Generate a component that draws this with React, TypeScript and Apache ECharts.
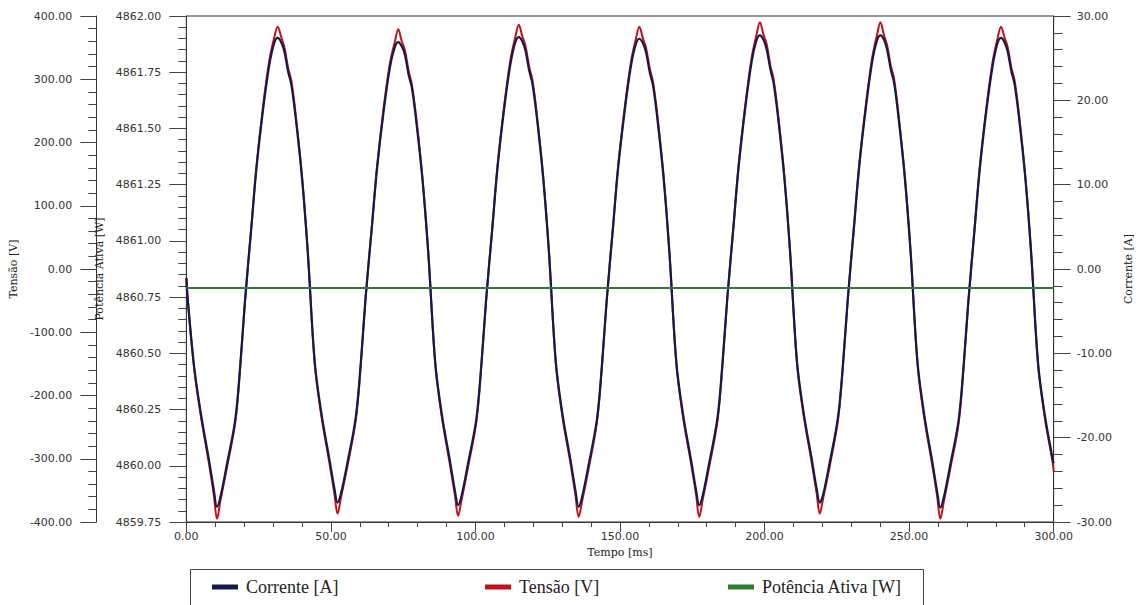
import React, { useEffect, useRef } from "react";
import * as echarts from "echarts";

// Tempo [ms]
const tempo = [
  0, 0.5, 2.7, 5.0, 7.8, 9.5,
  10.6, 11.8, 14.0, 16.9, 18.6, 20.3, 22.5, 24.2, 26.5, 28.7, 30.4, 31.6, 32.8, 33.9, 35.2, 36.3, 37.8, 40.0, 42.0, 44.4, 46.7, 49.5, 51.2,
  52.3, 53.5, 55.7, 58.6, 60.3, 62.0, 64.2, 65.9, 68.2, 70.4, 72.1, 73.3, 74.5, 75.6, 76.9, 78.0, 79.5, 81.7, 83.7, 86.1, 88.4, 91.2, 92.9,
  94.0, 95.2, 97.4, 100.3, 102.0, 103.7, 105.9, 107.6, 109.9, 112.1, 113.8, 115.0, 116.2, 117.3, 118.6, 119.7, 121.2, 123.4, 125.4, 127.8, 130.1, 132.9, 134.6,
  135.7, 136.9, 139.1, 142.0, 143.7, 145.4, 147.6, 149.3, 151.6, 153.8, 155.5, 156.7, 157.9, 159.0, 160.3, 161.4, 162.9, 165.1, 167.1, 169.5, 171.8, 174.6, 176.3,
  177.4, 178.6, 180.8, 183.7, 185.4, 187.1, 189.3, 191.0, 193.3, 195.5, 197.2, 198.4, 199.6, 200.7, 202.0, 203.1, 204.6, 206.8, 208.8, 211.2, 213.5, 216.3, 218.0,
  219.1, 220.3, 222.5, 225.4, 227.1, 228.8, 231.0, 232.7, 235.0, 237.2, 238.9, 240.1, 241.3, 242.4, 243.7, 244.8, 246.3, 248.5, 250.5, 252.9, 255.2, 258.0, 259.7,
  260.8, 262.0, 264.2, 267.1, 268.8, 270.5, 272.7, 274.4, 276.7, 278.9, 280.6, 281.8, 283.0, 284.1, 285.4, 286.5, 288.0, 290.2, 292.2, 294.6, 296.9, 299.7, 300.0,
];

// Corrente [A]
const corrente = [
  -1.1, -3.7, -11.6, -17.1, -22.6, -26.2,
  -28.2, -27.0, -23.2, -17.9, -11.6, -3.7, 5.0, 11.8, 18.8, 24.2, 26.8, 27.4, 26.9, 25.8, 23.4, 21.9, 18.0, 10.8, 2.0, -11.0, -17.1, -22.6, -26.0,
  -27.7, -26.6, -23.0, -17.6, -11.3, -3.4, 5.1, 11.7, 18.6, 23.9, 26.3, 26.9, 26.4, 25.4, 23.0, 21.5, 17.6, 10.5, 1.8, -11.1, -17.3, -22.8, -26.3,
  -28.0, -26.9, -23.1, -17.8, -11.5, -3.6, 5.1, 11.9, 18.9, 24.3, 26.9, 27.5, 27.0, 25.9, 23.5, 22.0, 18.1, 10.9, 2.1, -11.0, -17.2, -22.7, -26.3,
  -28.2, -27.0, -23.3, -17.9, -11.6, -3.7, 5.0, 11.8, 18.7, 24.1, 26.7, 27.3, 26.8, 25.7, 23.3, 21.8, 17.9, 10.7, 1.9, -11.1, -17.2, -22.7, -26.2,
  -28.0, -26.9, -23.1, -17.7, -11.4, -3.5, 5.2, 12.0, 19.0, 24.5, 27.1, 27.7, 27.2, 26.1, 23.7, 22.1, 18.2, 11.0, 2.2, -10.9, -17.0, -22.5, -26.0,
  -27.7, -26.7, -23.0, -17.6, -11.4, -3.5, 5.2, 12.0, 19.0, 24.5, 27.1, 27.7, 27.2, 26.0, 23.6, 22.1, 18.1, 10.9, 2.1, -11.0, -17.2, -22.8, -26.4,
  -28.3, -27.1, -23.3, -18.0, -11.7, -3.8, 4.9, 11.7, 18.7, 24.1, 26.8, 27.4, 26.9, 25.8, 23.4, 21.9, 18.0, 10.8, 2.0, -11.1, -17.2, -22.6, -23.0,
];

// Tensão [V]
const tensao = [
  -14, -50, -158, -232, -307, -357,
  -395, -366, -315, -243, -158, -50, 68, 160, 256, 330, 366, 383, 367, 351, 318, 298, 245, 147, 27, -150, -232, -307, -355,
  -387, -361, -312, -239, -154, -46, 69, 159, 253, 325, 359, 379, 360, 346, 313, 292, 240, 143, 25, -151, -235, -310, -358,
  -390, -365, -314, -242, -156, -49, 69, 162, 257, 331, 367, 386, 368, 353, 320, 299, 246, 148, 29, -150, -234, -308, -358,
  -392, -367, -317, -243, -158, -50, 68, 160, 254, 328, 364, 383, 365, 350, 317, 296, 244, 146, 26, -151, -234, -308, -356,
  -392, -365, -314, -241, -155, -48, 71, 163, 258, 333, 370, 390, 371, 356, 322, 301, 248, 150, 30, -148, -231, -306, -354,
  -387, -362, -313, -239, -155, -48, 71, 163, 258, 333, 370, 390, 370, 354, 321, 301, 246, 148, 29, -150, -234, -310, -359,
  -395, -368, -317, -245, -159, -52, 67, 159, 254, 328, 365, 383, 366, 351, 318, 298, 245, 147, 27, -151, -234, -307, -320,
];

// Potência Ativa [W]
const potenciaTempo = [0, 300];
const potencia = [4860.79, 4860.79];

const SERIES_NAMES = ["Corrente [A]", "Tensão [V]", "Potência Ativa [W]"];
const COLORS = ["#161a4a", "#c0121a", "#2f7d32"];

export default function App() {
  const ref = useRef<HTMLDivElement>(null);

  useEffect(() => {
    if (!ref.current) return;
    const chart = echarts.init(ref.current, null, { renderer: "svg" });

    const tickFont = {
      fontFamily: "DejaVu Sans",
      fontSize: 11,
      color: "#333",
    };
    const nameFont = {
      fontFamily: "DejaVu Serif",
      fontSize: 11,
      color: "#222",
    };
    const axisLine = { show: true, onZero: false, lineStyle: { color: "#333", width: 1 } };
    const fmt = (v: number) => v.toFixed(2);

    const legendBase = {
      orient: "horizontal",
      top: 578,
      padding: 0,
      icon: "rect",
      itemWidth: 26,
      itemHeight: 5,
      itemGap: 8,
      selectedMode: false,
      textStyle: {
        fontFamily: "Liberation Serif",
        fontSize: 18,
        color: "#222",
        padding: [0, 0, 0, 3],
      },
    };

    chart.setOption({
      animation: false,
      backgroundColor: "#fff",
      grid: {
        left: 182,
        right: 76,
        top: 16,
        bottom: 83,
        show: true,
        borderColor: "#333",
        borderWidth: 1,
        backgroundColor: "transparent",
      },
      legend: [
        { ...legendBase, left: 212, data: [SERIES_NAMES[0]] },
        { ...legendBase, left: 485, data: [SERIES_NAMES[1]] },
        { ...legendBase, left: 728, data: [SERIES_NAMES[2]] },
      ],
      graphic: [
        {
          type: "rect",
          shape: { x: 190.5, y: 569.5, width: 733, height: 50 },
          style: { fill: "none", stroke: "#444", lineWidth: 1 },
          silent: true,
        },
      ],
      xAxis: {
        type: "value",
        min: 0,
        max: 300,
        interval: 50,
        name: "Tempo [ms]",
        nameLocation: "middle",
        nameGap: 22,
        nameTextStyle: nameFont,
        axisLine,
        axisTick: { show: true, length: 10, lineStyle: { color: "#444" } },
        minorTick: { show: true, splitNumber: 5, length: 5, lineStyle: { color: "#444" } },
        axisLabel: { ...tickFont, margin: 9, formatter: fmt },
        splitLine: { show: false },
        minorSplitLine: { show: false },
      },
      yAxis: [
        {
          type: "value",
          position: "left",
          offset: 90,
          min: -400,
          max: 400,
          interval: 100,
          name: "Tensão [V]",
          nameLocation: "middle",
          nameGap: 65,
          nameRotate: 90,
          nameTextStyle: nameFont,
          axisLine,
          axisTick: { show: true, length: 16, lineStyle: { color: "#444" } },
          minorTick: { show: true, splitNumber: 5, length: 8, lineStyle: { color: "#444" } },
          axisLabel: { ...tickFont, margin: 24, formatter: fmt },
          splitLine: { show: false },
          minorSplitLine: { show: false },
        },
        {
          type: "value",
          position: "left",
          offset: 0,
          min: 4859.75,
          max: 4862,
          interval: 0.25,
          name: "Potência Ativa [W]",
          nameLocation: "middle",
          nameGap: 70,
          nameRotate: 90,
          nameTextStyle: nameFont,
          axisLine,
          axisTick: { show: true, length: 17, lineStyle: { color: "#444" } },
          minorTick: { show: true, splitNumber: 5, length: 8, lineStyle: { color: "#444" } },
          axisLabel: { ...tickFont, margin: 25, formatter: fmt },
          splitLine: { show: false },
          minorSplitLine: { show: false },
        },
        {
          type: "value",
          position: "right",
          offset: 0,
          min: -30,
          max: 30,
          interval: 10,
          name: "Corrente [A]",
          nameLocation: "middle",
          nameGap: 62,
          nameRotate: 90,
          nameTextStyle: nameFont,
          axisLine,
          axisTick: { show: true, length: 17, lineStyle: { color: "#444" } },
          minorTick: { show: true, splitNumber: 5, length: 9, lineStyle: { color: "#444" } },
          axisLabel: { ...tickFont, margin: 23, formatter: fmt },
          splitLine: { show: false },
          minorSplitLine: { show: false },
        },
      ],
      series: [
        {
          name: SERIES_NAMES[1],
          type: "line",
          yAxisIndex: 0,
          data: tempo.map((t, i) => [t, tensao[i]]),
          showSymbol: false,
          smooth: 0.35,
          lineStyle: { color: COLORS[1], width: 2 },
          itemStyle: { color: COLORS[1] },
          z: 2,
        },
        {
          name: SERIES_NAMES[0],
          type: "line",
          yAxisIndex: 2,
          data: tempo.map((t, i) => [t, corrente[i]]),
          showSymbol: false,
          smooth: 0.35,
          lineStyle: { color: COLORS[0], width: 2.2 },
          itemStyle: { color: COLORS[0] },
          z: 3,
        },
        {
          name: SERIES_NAMES[2],
          type: "line",
          yAxisIndex: 1,
          data: potenciaTempo.map((t, i) => [t, potencia[i]]),
          showSymbol: false,
          lineStyle: { color: COLORS[2], width: 2 },
          itemStyle: { color: COLORS[2] },
          z: 4,
        },
      ],
    });

    return () => chart.dispose();
  }, []);

  return (
    <div
      ref={ref}
      style={{ position: "fixed", left: 0, top: 0, width: 1142, height: 605 }}
    />
  );
}
